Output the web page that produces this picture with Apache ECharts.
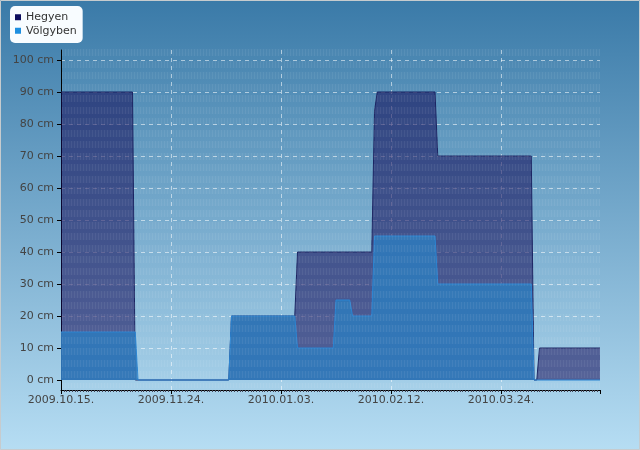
<!DOCTYPE html>
<html><head><meta charset="utf-8">
<script src="https://cdn.jsdelivr.net/npm/echarts@6/dist/echarts.min.js"></script>
<style>html,body{margin:0;padding:0;background:#fff}#c{width:640px;height:450px}</style>
</head><body><div id="c"></div>
<script>
// ---- data ----
const startDate = '2009-10-15';
const endDate = '2010-04-29';
const xTickLabels = ['2009.10.15.', '2009.11.24.', '2010.01.03.', '2010.02.12.', '2010.03.24.'];
const yTickValues = [0, 10, 20, 30, 40, 50, 60, 70, 80, 90, 100];
const seriesNames = ['Hegyen', 'Völgyben'];

const hegyenDates = ['2009-10-15','2009-11-10','2009-11-11','2009-12-15','2009-12-16','2010-01-08','2010-01-09',
  '2010-02-05','2010-02-06','2010-02-07','2010-02-28','2010-03-01','2010-04-04','2010-04-05','2010-04-06','2010-04-07','2010-04-29'];
const hegyenValues = [90, 90, 0, 0, 20, 20, 40, 40, 84, 90, 90, 70, 70, 0, 0, 10, 10];

const volgybenDates = ['2009-10-15','2009-11-11','2009-11-12','2009-12-15','2009-12-16','2010-01-08','2010-01-09',
  '2010-01-22','2010-01-23','2010-01-28','2010-01-29','2010-02-05','2010-02-06','2010-02-28','2010-03-01','2010-04-04','2010-04-05','2010-04-29'];
const volgybenValues = [15, 15, 0, 0, 20, 20, 10, 10, 25, 25, 20, 20, 45, 45, 30, 30, 0, 0];

// ---- helpers ----
function utc(s) { const p = s.split('-').map(Number); return Date.UTC(p[0], p[1] - 1, p[2]); }
function dayIndex(s) { return Math.round((utc(s) - utc(startDate)) / 86400000); }
function pairs(dates, vals) { return dates.map((d, i) => [dayIndex(d), vals[i]]); }

// subtle striped texture of the plot area
const tile = document.createElement('canvas');
tile.width = 3; tile.height = 23;
const tc = tile.getContext('2d');
[[0, 7], [12, 7]].forEach(([y0, h]) => {
  tc.fillStyle = 'rgba(255,255,255,0.025)';
  tc.fillRect(0, y0, 3, h);
  tc.fillStyle = 'rgba(255,255,255,0.06)';
  tc.fillRect(1, y0, 1, h);
});

const chart = echarts.init(document.getElementById('c'), null, { renderer: 'canvas' });
const dashed = { color: 'rgba(255,255,255,0.55)', type: [4, 4], width: 1 };
chart.setOption({
  animation: false,
  backgroundColor: { type: 'linear', x: 0, y: 0, x2: 0, y2: 1,
    colorStops: [{ offset: 0, color: '#3a7aa8' }, { offset: 1, color: '#b6ddf3' }] },
  textStyle: { fontFamily: 'DejaVu Sans' },
  legend: {
    orient: 'vertical', left: 10, top: 6,
    backgroundColor: '#f8fcff', borderRadius: 5,
    padding: [5, 6, 6, 5], itemGap: 1, itemWidth: 6, itemHeight: 6,
    textStyle: { fontSize: 11, color: '#333', lineHeight: 12.5, fontFamily: 'DejaVu Sans' },
    data: [
      { name: seriesNames[0], icon: 'rect', itemStyle: { color: '#0d0d5e' } },
      { name: seriesNames[1], icon: 'rect', itemStyle: { color: '#1e8fe0' } }
    ]
  },
  grid: [
    { left: 61, right: 40, top: 50, bottom: 60 },
    { left: 61, right: 40, top: 60, bottom: 70 }
  ],
  xAxis: [
    {
      type: 'value', gridIndex: 0, min: 0, max: dayIndex(endDate), interval: 40,
      axisLine: { onZero: false, lineStyle: { color: '#000', width: 1 } },
      axisTick: { length: 4, lineStyle: { color: '#000' } },
      minorTick: { show: true, splitNumber: 40, length: 2, lineStyle: { color: '#445' } },
      minorSplitLine: { show: false },
      axisLabel: { margin: 5, fontSize: 11, color: '#444', showMaxLabel: false,
        formatter: v => (v % 40 === 0 && xTickLabels[v / 40]) ? xTickLabels[v / 40] : '' },
      splitLine: { show: true, showMinLine: false, showMaxLine: false, lineStyle: dashed }
    },
    { type: 'value', gridIndex: 1, min: 0, max: 1, show: false }
  ],
  yAxis: [
    {
      type: 'value', gridIndex: 0, min: -3.125, max: 103.125,
      axisLine: { show: true, onZero: false, lineStyle: { color: '#000', width: 1 } },
      axisTick: { show: false }, axisLabel: { show: false }, splitLine: { show: false }
    },
    {
      type: 'value', gridIndex: 1, min: yTickValues[0], max: yTickValues[yTickValues.length - 1], interval: 10,
      axisLine: { show: false, onZero: false },
      axisTick: { show: true, length: 4, lineStyle: { color: '#000' } },
      axisLabel: { margin: 7, fontSize: 11, color: '#444', formatter: v => v + ' cm' },
      splitLine: { show: true, showMinLine: false, lineStyle: dashed }
    }
  ],
  series: [
    {
      name: seriesNames[0], type: 'line', xAxisIndex: 0, yAxisIndex: 0,
      data: pairs(hegyenDates, hegyenValues), symbol: 'none', showSymbol: false,
      itemStyle: { color: '#0d0d5e' },
      lineStyle: { color: '#1b2462', width: 1 },
      areaStyle: { color: 'rgba(19,10,88,0.56)', opacity: 1, origin: 'auto' }, z: 2
    },
    {
      name: seriesNames[1], type: 'line', xAxisIndex: 0, yAxisIndex: 0,
      data: pairs(volgybenDates, volgybenValues), symbol: 'none', showSymbol: false,
      itemStyle: { color: '#1e8fe0' },
      lineStyle: { color: '#2a84d2', width: 1 },
      areaStyle: { color: 'rgba(48,120,186,0.92)', opacity: 1, origin: 'auto' }, z: 3
    }
  ],
  graphic: [
    { type: 'rect', silent: true, z: 50,
      shape: { x: 62, y: 49, width: 538, height: 339 },
      style: { fill: { image: tile, repeat: 'repeat', x: 61, y: 49 } } },
    { type: 'rect', silent: true, z: 60,
      shape: { x: 0.5, y: 0.5, width: 639, height: 449 },
      style: { fill: null, stroke: '#c6cbce', lineWidth: 1 } }
  ]
});
</script></body></html>
